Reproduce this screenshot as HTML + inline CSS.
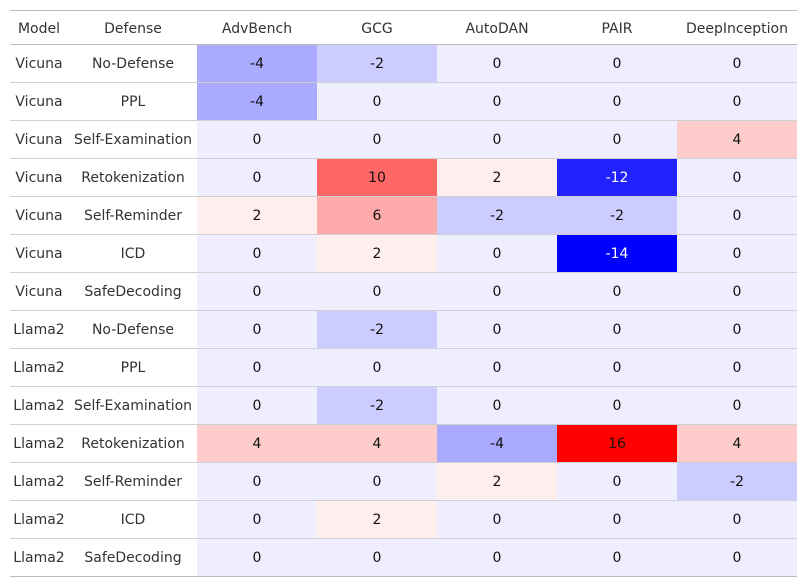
<!DOCTYPE html>
<html><head><meta charset="utf-8">
<style>
body{margin:0;background:#fff;width:807px;height:588px;overflow:hidden;font-family:"DejaVu Sans","Liberation Sans",sans-serif;}
#t{position:absolute;left:0;top:0;}
</style></head><body>
<svg id="t" width="807" height="588" xmlns="http://www.w3.org/2000/svg"></svg>
<script>
const columns=["AdvBench","GCG","AutoDAN","PAIR","DeepInception"];
const models=["Vicuna","Vicuna","Vicuna","Vicuna","Vicuna","Vicuna","Vicuna","Llama2","Llama2","Llama2","Llama2","Llama2","Llama2","Llama2"];
const defenses=["No-Defense","PPL","Self-Examination","Retokenization","Self-Reminder","ICD","SafeDecoding","No-Defense","PPL","Self-Examination","Retokenization","Self-Reminder","ICD","SafeDecoding"];
const values=[
[-4,-2,0,0,0],
[-4,0,0,0,0],
[0,0,0,0,4],
[0,10,2,-12,0],
[2,6,-2,-2,0],
[0,2,0,-14,0],
[0,0,0,0,0],
[0,-2,0,0,0],
[0,0,0,0,0],
[0,-2,0,0,0],
[4,4,-4,16,4],
[0,0,2,0,-2],
[0,2,0,0,0],
[0,0,0,0,0]];
const NS="http://www.w3.org/2000/svg";
const svg=document.getElementById('t');
const top0=10,headH=34,rowH=38,left=10,right=797;
const colX=[197,317,437,557,677,797];
function rowY(i){return top0+headH+i*rowH;}
function color(v){
  if(v<0){const c=Math.max(0,238+17*v);return `rgb(${c},${c},255)`;}
  if(v===0)return 'rgb(238,238,255)';
  const c=Math.max(0,Math.min(238,238-17*(v-2)));return `rgb(255,${c},${c})`;
}
function txt(x,y,s,fill,name){
  const t=document.createElementNS(NS,'text');
  t.setAttribute('x',x);t.setAttribute('y',y);t.setAttribute('text-anchor','middle');
  t.setAttribute('font-size','14');t.setAttribute('fill',fill);t.textContent=s;
  
  
  svg.appendChild(t);
}
function line(y,c,w){
  const l=document.createElementNS(NS,'line');
  l.setAttribute('x1',left);l.setAttribute('x2',right);l.setAttribute('y1',y);l.setAttribute('y2',y);
  l.setAttribute('stroke',c);l.setAttribute('stroke-width',w);
  
  
  svg.appendChild(l);
}
// cells
values.forEach((row,i)=>{
  row.forEach((v,j)=>{
    const r=document.createElementNS(NS,'rect');
    r.setAttribute('x',colX[j]);r.setAttribute('y',rowY(i));
    r.setAttribute('width',colX[j+1]-colX[j]);r.setAttribute('height',rowH);
    r.setAttribute('fill',color(v));
    
    
    svg.appendChild(r);
  });
});
// header
txt(39,top0+23,"Model","#333",'header-model');
txt(133,top0+23,"Defense","#333",'header-defense');
columns.forEach((c,j)=>txt((colX[j]+colX[j+1])/2,top0+23,c,"#333",'header-column'));
// rows
values.forEach((row,i)=>{
  const cy=rowY(i)+24;
  txt(39,cy,models[i],"#333",'model-label');
  txt(133,cy,defenses[i],"#333",'defense-label');
  row.forEach((v,j)=>txt((colX[j]+colX[j+1])/2,cy,String(v),v<=-10?"#fff":"#111",'cell-value'));
});
for(let i=1;i<values.length;i++)line(rowY(i)+0.5,"#d0d0d0",1);
line(top0+0.5,"#bbb",1);
line(rowY(0)+0.5,"#bbb",1);
line(rowY(values.length)+0.5,"#bbb",1);
</script>
</body></html>
